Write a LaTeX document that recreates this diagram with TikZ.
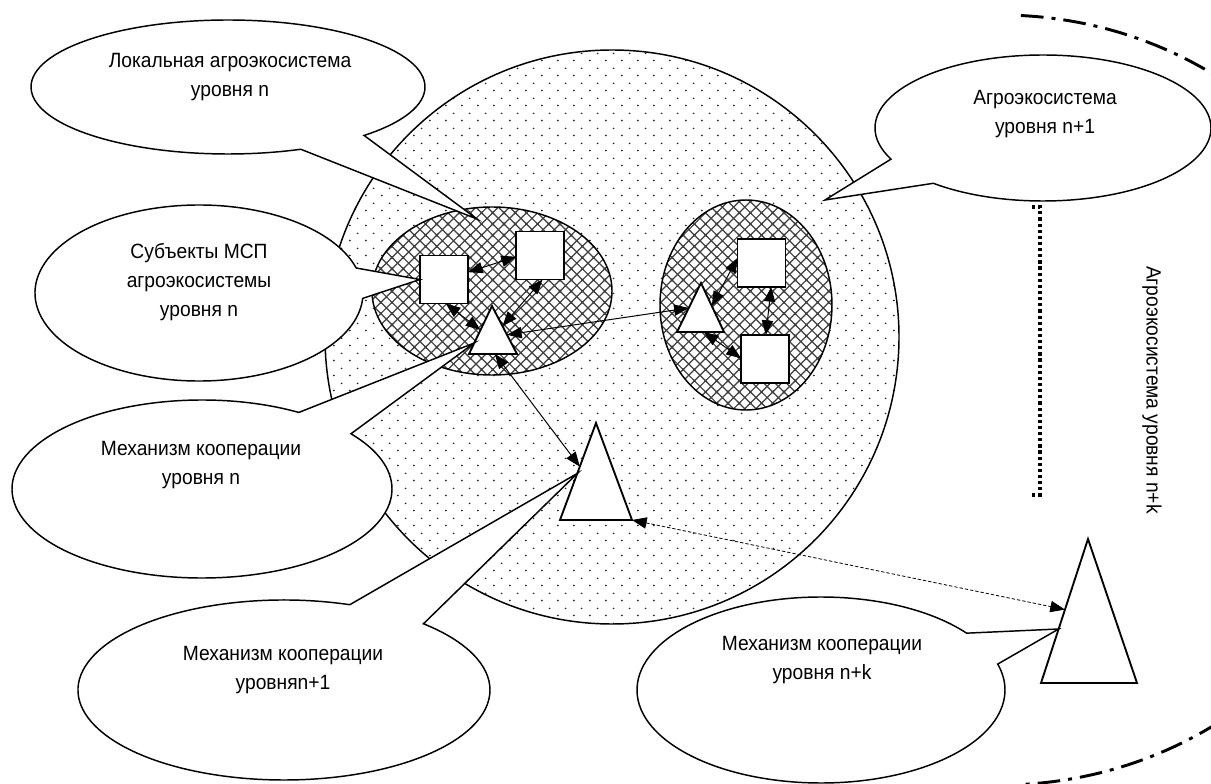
\documentclass[tikz,border=0pt]{standalone}
\usepackage{fontspec}
\setmainfont{Liberation Sans}[FakeStretch=0.93]
\usetikzlibrary{shapes.geometric,shapes.callouts,patterns.meta,arrows.meta,calc}

% sparse staggered dots for the outer agro-ecosystem
\pgfdeclarepattern{name=sparsedots, type=uncolored,
  bottom left={\pgfpoint{0pt}{0pt}}, top right={\pgfpoint{11.8pt}{11.25pt}},
  tile size={\pgfpoint{11.8pt}{11.25pt}},
  code={\pgfpathcircle{\pgfpoint{2.95pt}{2.8pt}}{0.7pt}
        \pgfpathcircle{\pgfpoint{8.85pt}{8.43pt}}{0.7pt}
        \pgfusepath{fill}}}
% diagonal mesh for the local systems
\pgfdeclarepattern{name=diagmesh, type=uncolored,
  bottom left={\pgfpoint{-1pt}{-1pt}}, top right={\pgfpoint{9.4pt}{9.4pt}},
  tile size={\pgfpoint{8.4pt}{8.4pt}},
  code={\pgfsetlinewidth{0.9pt}
        \pgfpathmoveto{\pgfpoint{-1pt}{-1pt}}\pgfpathlineto{\pgfpoint{9.4pt}{9.4pt}}
        \pgfpathmoveto{\pgfpoint{-1pt}{9.4pt}}\pgfpathlineto{\pgfpoint{9.4pt}{-1pt}}
        \pgfusepath{stroke}}}

\begin{document}
\begin{tikzpicture}[x=0.75pt,y=-0.75pt,
  every node/.style={inner sep=0pt, outer sep=0pt},
  outerring/.style={circle, draw, line width=1.1pt, minimum size=430.5pt,
    pattern=sparsedots, pattern color=black!85},
  cluster/.style={ellipse, draw, line width=1.1pt, preaction={fill=white},
    pattern=diagmesh, pattern color=black!75},
  agent/.style={rectangle, draw, fill=white, line width=1.4pt, minimum size=36pt},
  trishape/.style={draw, fill=white, line width=1.4pt, line join=miter},
  link/.style={line width=0.75pt,
    {Triangle[length=11pt,width=8.5pt]}-{Triangle[length=11pt,width=8.5pt]}},
  farlink/.style={link, line width=0.6pt, dash pattern=on 2.5pt off 1.5pt},
  bubble/.style={ellipse callout, draw, fill=white, line width=1.1pt},
  txt/.style={align=center, font=\fontsize{15.5}{21.75}\selectfont},
  boundary/.style={line width=2.2pt, dash pattern=on 17pt off 6pt on 3pt off 6pt},
  dotline/.style={line width=2.6pt, dash pattern=on 2.4pt off 2.2pt}]

\useasboundingbox (0,0) rectangle (1211,784);

% agro-ecosystem of level n+1 and the two local systems
\node[outerring] (ring) at (612,337) {};
\node[cluster, minimum width=180pt, minimum height=126pt] (locsys) at (492,291) {};
\node[cluster, minimum width=129pt, minimum height=157.5pt] (nbsys) at (746,305) {};

% SME subjects
\node[agent] (sA) at (444,279.5) {};
\node[agent] (sB) at (540,255.5) {};
\node[agent] (sC) at (761.5,263) {};
\node[agent] (sD) at (765,359) {};

% cooperation mechanisms (triangles)
\coordinate (t1top) at (492,306);  \coordinate (t1l) at (469,354);  \coordinate (t1r) at (517,354);
\coordinate (t2top) at (701,283);  \coordinate (t2l) at (677,332);  \coordinate (t2r) at (724,332);
\coordinate (t3top) at (596,423);  \coordinate (t3l) at (560,520);  \coordinate (t3r) at (632,520);
\coordinate (t4top) at (1088,539); \coordinate (t4l) at (1041,683); \coordinate (t4r) at (1137,683);
\draw[trishape] (t1top) -- (t1l) -- (t1r) -- cycle;
\draw[trishape] (t2top) -- (t2l) -- (t2r) -- cycle;
\draw[trishape] (t3top) -- (t3l) -- (t3r) -- cycle;
\draw[trishape] (t4top) -- (t4l) -- (t4r) -- cycle;

% attachment points on the triangles
\coordinate (t1w) at ($(t1top)!0.5!(t1l)$);
\coordinate (t1e) at ($(t1top)!0.42!(t1r)$);
\coordinate (t1e2) at ($(t1top)!0.6!(t1r)$);
\coordinate (t1b) at ($(t1l)!0.54!(t1r)$);
\coordinate (t1c) at ($(t1top)!0.77!(t1l)$);
\coordinate (t2w) at ($(t2top)!0.51!(t2l)$);
\coordinate (t2e) at ($(t2top)!0.47!(t2r)$);
\coordinate (t2b) at ($(t2l)!0.57!(t2r)$);
\coordinate (t3w) at ($(t3top)!0.45!(t3l)$);
\coordinate (t3c) at ($(t3top)!0.52!(t3l)$);
\coordinate (t4w) at ($(t4top)!0.49!(t4l)$);
\coordinate (t4c) at ($(t4top)!0.625!(t4l)$);

% interactions
\draw[link] (sA.17) -- (sB.183);
\draw[link] (sA.-86) -- (t1w);
\draw[link] (sB.-84) -- (t1e);
\draw[link] (t1e2) -- (t2w);
\draw[link] (t2e) -- (sC.168);
\draw[link] (sC.-68) -- (sD.88);
\draw[link] (t2b) -- (sD.178);
\draw[link] (t1b) -- (t3w);
\draw[farlink] (t3r) -- (t4w);

% callouts
\coordinate (loctip) at (477,219);
\coordinate (agtip) at (825,200);
\node[bubble, minimum width=295.5pt, minimum height=100.5pt,
  callout absolute pointer={(loctip)}, callout pointer arc=22] (cLoc) at (228,87) {};
\node[bubble, minimum width=246pt, minimum height=132pt,
  callout absolute pointer={(sA.west)}, callout pointer arc=20] (cSub) at (199,293) {};
\node[bubble, minimum width=285pt, minimum height=133.5pt,
  callout absolute pointer={(t1c)}, callout pointer arc=21] (cMn) at (202,489) {};
\node[bubble, minimum width=309pt, minimum height=135pt,
  callout absolute pointer={(t3c)}, callout pointer arc=24] (cMn1) at (284,690) {};
\node[bubble, minimum width=276pt, minimum height=139.5pt,
  callout absolute pointer={(t4c)}, callout pointer arc=21.5] (cMnk) at (821,690) {};
\node[bubble, minimum width=252pt, minimum height=109.5pt,
  callout absolute pointer={(agtip)}, callout pointer arc=24] (cAg) at (1043,128) {};

\node[txt] (tLoc) at (230,77) {Локальная агроэкосистема\\уровня n};
\node[txt] (tSub) at (199,282) {Субъекты МСП\\агроэкосистемы\\уровня n};
\node[txt] (tMn) at (201,465) {Механизм кооперации\\уровня n};
\node[txt] (tMn1) at (283,670) {Механизм кооперации\\уровняn+1};
\node[txt] (tMnk) at (822,660) {Механизм кооперации\\уровня n+k};
\node[txt] (tAg) at (1045,114) {Агроэкосистема\\уровня n+1};

% agro-ecosystem of level n+k
\begin{scope}
  \clip (0,0) rectangle (1211,784);
  \draw[boundary] (1000,400) ++(-87:400 and 385)
    arc[start angle=-87, end angle=87, x radius=400, y radius=385];
\end{scope}
\draw[dotline] (1032,207) -- (1040,207) -- (1040,495) -- (1032,495);
\node[txt, rotate=-90] (tNk) at (1152,390) {Агроэкосистема уровня n+k};
\end{tikzpicture}
\end{document}
